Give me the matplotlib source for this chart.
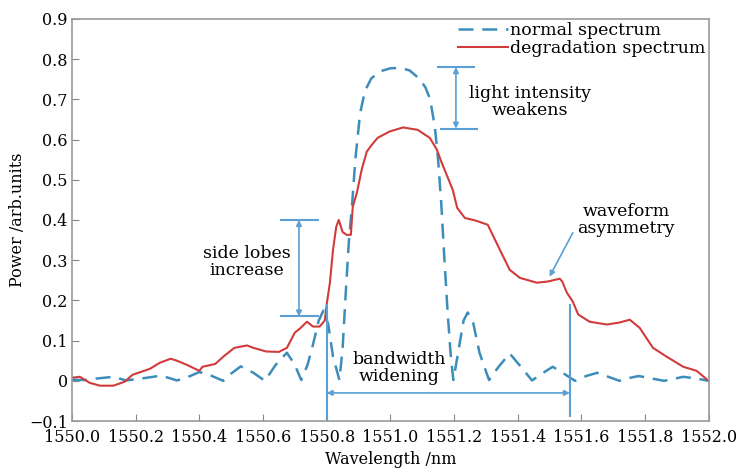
import matplotlib.pyplot as plt

# normal (reference) spectrum
wl_normal = [1550.00, 1550.04, 1550.08, 1550.13, 1550.17, 1550.22, 1550.28, 1550.33,
             1550.36, 1550.40, 1550.44, 1550.475, 1550.50, 1550.53, 1550.57, 1550.606,
             1550.64, 1550.675, 1550.70, 1550.72, 1550.74, 1550.757, 1550.775, 1550.79,
             1550.805, 1550.82, 1550.84, 1550.85, 1550.86, 1550.87, 1550.88, 1550.89,
             1550.905, 1550.92, 1550.94, 1550.97, 1551.00, 1551.03, 1551.06, 1551.09,
             1551.11, 1551.125, 1551.14, 1551.15, 1551.16, 1551.17, 1551.18, 1551.19,
             1551.198, 1551.215, 1551.23, 1551.243, 1551.26, 1551.28, 1551.31, 1551.34,
             1551.375, 1551.41, 1551.445, 1551.48, 1551.51, 1551.545, 1551.58, 1551.615,
             1551.65, 1551.685, 1551.72, 1551.75, 1551.78, 1551.82, 1551.86, 1551.89,
             1551.92, 1551.96, 1552.00]
p_normal = [0.003, 0.002, 0.006, 0.010, 0.001, 0.006, 0.013, 0.001,
            0.008, 0.022, 0.012, 0.000, 0.018, 0.036, 0.020, 0.000,
            0.040, 0.070, 0.040, 0.002, 0.040, 0.090, 0.150, 0.175,
            0.140, 0.060, 0.002, 0.080, 0.220, 0.350, 0.440, 0.550,
            0.665, 0.720, 0.752, 0.770, 0.777, 0.778, 0.772, 0.752,
            0.730, 0.700, 0.630, 0.550, 0.440, 0.300, 0.170, 0.060,
            0.002, 0.080, 0.150, 0.170, 0.145, 0.070, 0.002, 0.035,
            0.068, 0.035, 0.001, 0.020, 0.035, 0.018, 0.000, 0.012,
            0.020, 0.010, 0.000, 0.007, 0.012, 0.006, 0.000, 0.005,
            0.010, 0.006, 0.000]

# degraded spectrum
wl_degr = [1550.00, 1550.025, 1550.056, 1550.088, 1550.13, 1550.166, 1550.19, 1550.245,
           1550.276, 1550.31, 1550.33, 1550.36, 1550.40, 1550.41, 1550.45, 1550.475,
           1550.51, 1550.55, 1550.57, 1550.61, 1550.65, 1550.675, 1550.70, 1550.716,
           1550.738, 1550.757, 1550.778, 1550.794, 1550.80, 1550.81, 1550.82, 1550.83,
           1550.838, 1550.85, 1550.863, 1550.876, 1550.882, 1550.895, 1550.91, 1550.926,
           1550.942, 1550.96, 1550.998, 1551.04, 1551.086, 1551.124, 1551.146, 1551.16,
           1551.196, 1551.21, 1551.234, 1551.27, 1551.306, 1551.344, 1551.375, 1551.407,
           1551.46, 1551.495, 1551.532, 1551.54, 1551.554, 1551.573, 1551.59, 1551.626,
           1551.68, 1551.72, 1551.752, 1551.783, 1551.825, 1551.868, 1551.92, 1551.962,
           1551.995]
p_degr = [0.008, 0.010, -0.005, -0.012, -0.012, -0.002, 0.015, 0.030,
          0.045, 0.055, 0.050, 0.040, 0.025, 0.035, 0.042, 0.060,
          0.082, 0.088, 0.082, 0.073, 0.072, 0.082, 0.120, 0.130,
          0.147, 0.135, 0.135, 0.150, 0.190, 0.243, 0.326, 0.383,
          0.400, 0.370, 0.363, 0.363, 0.433, 0.468, 0.525, 0.570,
          0.587, 0.604, 0.620, 0.630, 0.624, 0.604, 0.575, 0.545,
          0.475, 0.430, 0.405, 0.398, 0.388, 0.326, 0.276, 0.256,
          0.244, 0.247, 0.254, 0.247, 0.220, 0.197, 0.165, 0.147,
          0.140, 0.145, 0.152, 0.132, 0.082, 0.060, 0.035, 0.025,
          0.003]

xticks = [1550.0, 1550.2, 1550.4, 1550.6, 1550.8, 1551.0, 1551.2, 1551.4, 1551.6, 1551.8, 1552.0]
yticks = [-0.1, 0, 0.1, 0.2, 0.3, 0.4, 0.5, 0.6, 0.7, 0.8, 0.9]
ytick_labels = ["\u22120.1", "0", "0.1", "0.2", "0.3", "0.4", "0.5", "0.6", "0.7", "0.8", "0.9"]

plt.rcParams["font.family"] = "DejaVu Serif"
plt.rcParams["font.size"] = 11.5

blue = "#3d8dbb"
red = "#d23b3b"
ann = "#5b9fd4"
note_size = 12.5

fig = plt.figure(figsize=(7.46, 4.71), dpi=100)
ax = fig.add_axes([0.0965, 0.106, 0.8535, 0.854])

ax.plot(wl_normal, p_normal, color=blue, lw=1.8, dashes=(6, 3.5), label="normal spectrum")
ax.plot(wl_degr, p_degr, color=red, lw=1.5, label="degradation spectrum")

ax.set_xlim(1550.0, 1552.0)
ax.set_ylim(-0.1, 0.9)
ax.set_xticks(xticks)
ax.set_xticklabels([f"{t:.1f}" for t in xticks])
ax.set_yticks(yticks)
ax.set_yticklabels(ytick_labels)
ax.tick_params(direction="in", length=5, color="#888888", pad=3)
ax.tick_params(axis="x", pad=6)
for s in ax.spines.values():
    s.set_color("#999999")
    s.set_linewidth(1.2)

ax.set_xlabel("Wavelength /nm", labelpad=3)
ax.set_ylabel("Power /arb.units", labelpad=2)

leg = ax.legend(loc="upper right", frameon=False, handlelength=2.9, handletextpad=0.1,
                borderaxespad=0.0, labelspacing=0.05, borderpad=0.2,
                prop={"size": note_size})

arrow = dict(arrowstyle="<|-|>", color=ann, lw=1.2, mutation_scale=8, shrinkA=0, shrinkB=0)

# side lobes increase
ax.hlines([0.4, 0.16], 1550.653, 1550.775, color=ann, lw=1.5)
ax.annotate("", xy=(1550.713, 0.16), xytext=(1550.713, 0.4), arrowprops=arrow)
ax.text(1550.55, 0.296, "side lobes\nincrease", ha="center", va="center",
        linespacing=1.0, fontsize=note_size)

# light intensity weakens
ax.hlines(0.78, 1551.146, 1551.265, color=ann, lw=1.5)
ax.hlines(0.627, 1551.155, 1551.275, color=ann, lw=1.5)
ax.annotate("", xy=(1551.206, 0.627), xytext=(1551.206, 0.78), arrowprops=arrow)
ax.text(1551.44, 0.694, "light intensity\nweakens", ha="center", va="center",
        linespacing=1.0, fontsize=note_size)

# waveform asymmetry
ax.annotate("", xy=(1551.50, 0.259), xytext=(1551.573, 0.368),
            arrowprops=dict(arrowstyle="-|>", color=ann, lw=1.2, mutation_scale=8,
                            shrinkA=0, shrinkB=0))
ax.text(1551.74, 0.40, "waveform\nasymmetry", ha="center", va="center",
        linespacing=1.0, fontsize=note_size)

# bandwidth widening
ax.vlines(1550.80, -0.1, 0.19, color=ann, lw=1.5)
ax.vlines(1551.564, -0.09, 0.19, color=ann, lw=1.5)
ax.annotate("", xy=(1550.80, -0.03), xytext=(1551.564, -0.03), arrowprops=arrow)
ax.text(1551.027, 0.032, "bandwidth\nwidening", ha="center", va="center",
        linespacing=1.0, fontsize=note_size)

fig.savefig("out.png", dpi=100)
